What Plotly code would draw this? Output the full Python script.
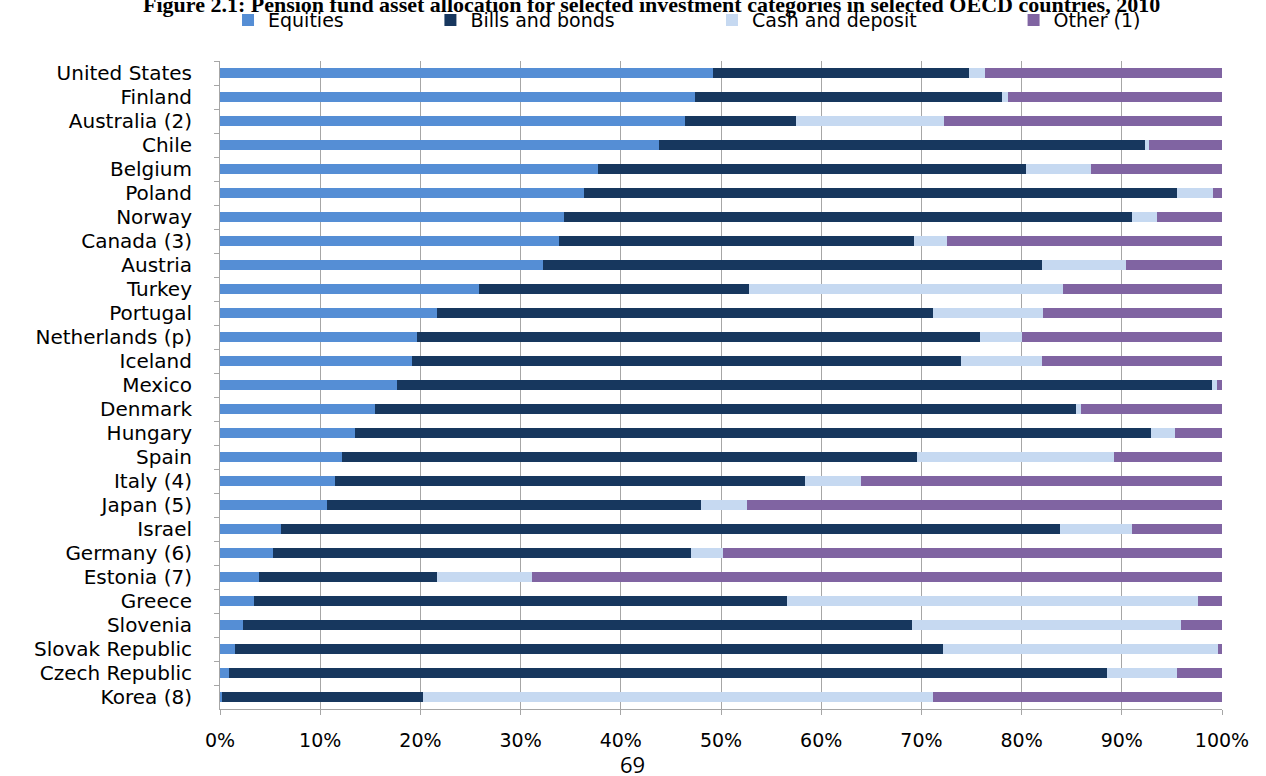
import plotly.graph_objects as go

countries = ["United States", "Finland", "Australia (2)", "Chile", "Belgium", "Poland",
             "Norway", "Canada (3)", "Austria", "Turkey", "Portugal", "Netherlands (p)",
             "Iceland", "Mexico", "Denmark", "Hungary", "Spain", "Italy (4)", "Japan (5)",
             "Israel", "Germany (6)", "Estonia (7)", "Greece", "Slovenia", "Slovak Republic",
             "Czech Republic", "Korea (8)"]

equities = [49.2, 47.4, 46.4, 43.8, 37.7, 36.3, 34.3, 33.85, 32.2, 25.8, 21.7, 19.7,
            19.2, 17.7, 15.5, 13.45, 12.2, 11.5, 10.7, 6.1, 5.3, 3.9, 3.4, 2.3, 1.45, 0.9, 0.2]
bills_bonds = [25.55, 30.6, 11.1, 48.55, 42.75, 59.2, 56.7, 35.45, 49.8, 27.0, 49.5, 56.1,
               54.8, 81.3, 69.95, 79.45, 57.35, 46.85, 37.3, 77.7, 41.7, 17.8, 53.2, 66.8,
               70.75, 87.6, 20.1]
cash_deposit = [1.55, 0.65, 14.8, 0.35, 6.5, 3.6, 2.5, 3.3, 8.4, 31.3, 10.9, 4.25,
                8.0, 0.5, 0.5, 2.4, 19.65, 5.65, 4.55, 7.2, 3.2, 9.4, 41.0, 26.85,
                27.4, 7.0, 50.9]
other = [23.7, 21.35, 27.7, 7.3, 13.05, 0.9, 6.5, 27.4, 9.6, 15.9, 17.9, 19.95,
         18.0, 0.5, 14.05, 4.7, 10.8, 36.0, 47.45, 9.0, 49.8, 68.9, 2.4, 4.05,
         0.4, 4.5, 28.8]

x_ticks = [0, 10, 20, 30, 40, 50, 60, 70, 80, 90, 100]
x_tick_labels = ["0%", "10%", "20%", "30%", "40%", "50%", "60%", "70%", "80%", "90%", "100%"]

series = [
    ("Equities", equities, "#558ED5", "legend", 0.008),
    ("Bills and bonds", bills_bonds, "#17375E", "legend2", 0.210),
    ("Cash and deposit", cash_deposit, "#C6D9F1", "legend3", 0.491),
    ("Other (1)", other, "#8064A2", "legend4", 0.792),
]

fig = go.Figure()
for name, vals, color, leg, _ in series:
    fig.add_trace(go.Bar(
        y=countries, x=vals, name=name, orientation="h",
        marker=dict(color=color, line=dict(width=0)),
        legend=leg,
    ))

legend_font = dict(family="DejaVu Sans", size=19, color="#000000")
layout_legends = {}
for name, vals, color, leg, lx in series:
    layout_legends[leg] = dict(orientation="h", xref="paper", x=lx, xanchor="left",
                               yref="container", y=0.974, yanchor="middle",
                               font=legend_font, bgcolor="rgba(0,0,0,0)",
                               itemclick=False, itemdoubleclick=False)

fig.update_layout(
    barmode="stack",
    bargap=0.58,
    width=1266, height=776,
    margin=dict(l=220, r=44, t=61, b=67),
    paper_bgcolor="white",
    plot_bgcolor="white",
    showlegend=True,
    **layout_legends,
    xaxis=dict(
        range=[0, 100],
        tickmode="array", tickvals=x_ticks, ticktext=x_tick_labels,
        showgrid=True, gridcolor="#A6A6A6", gridwidth=1,
        showline=True, linecolor="#A6A6A6", linewidth=1,
        ticks="outside", ticklen=5, tickcolor="#A6A6A6",
        tickfont=dict(family="DejaVu Sans", size=19, color="#000000"),
        ticklabelstandoff=9,
        zeroline=False,
    ),
    yaxis=dict(
        autorange="reversed",
        showgrid=False,
        showline=True, linecolor="#A6A6A6", linewidth=1,
        ticks="outside", ticklen=5, tickcolor="#A6A6A6", tickson="boundaries",
        tickfont=dict(family="DejaVu Sans", size=20, color="#000000"),
        ticklabelstandoff=23,
    ),
    annotations=[
        dict(text="<b>Figure 2.1: Pension fund asset allocation for selected investment categories in selected OECD countries, 2010</b>",
             xref="paper", yref="paper", x=0.431, y=1.0872, xanchor="center", yanchor="middle",
             showarrow=False, font=dict(family="Liberation Serif", size=22, color="#000000")),
        dict(text="69", xref="paper", yref="paper", x=0.412, y=-0.0849,
             xanchor="center", yanchor="middle", showarrow=False,
             font=dict(family="Open Sans", size=22, color="#000000")),
    ],
)

fig.write_html("out.html")
